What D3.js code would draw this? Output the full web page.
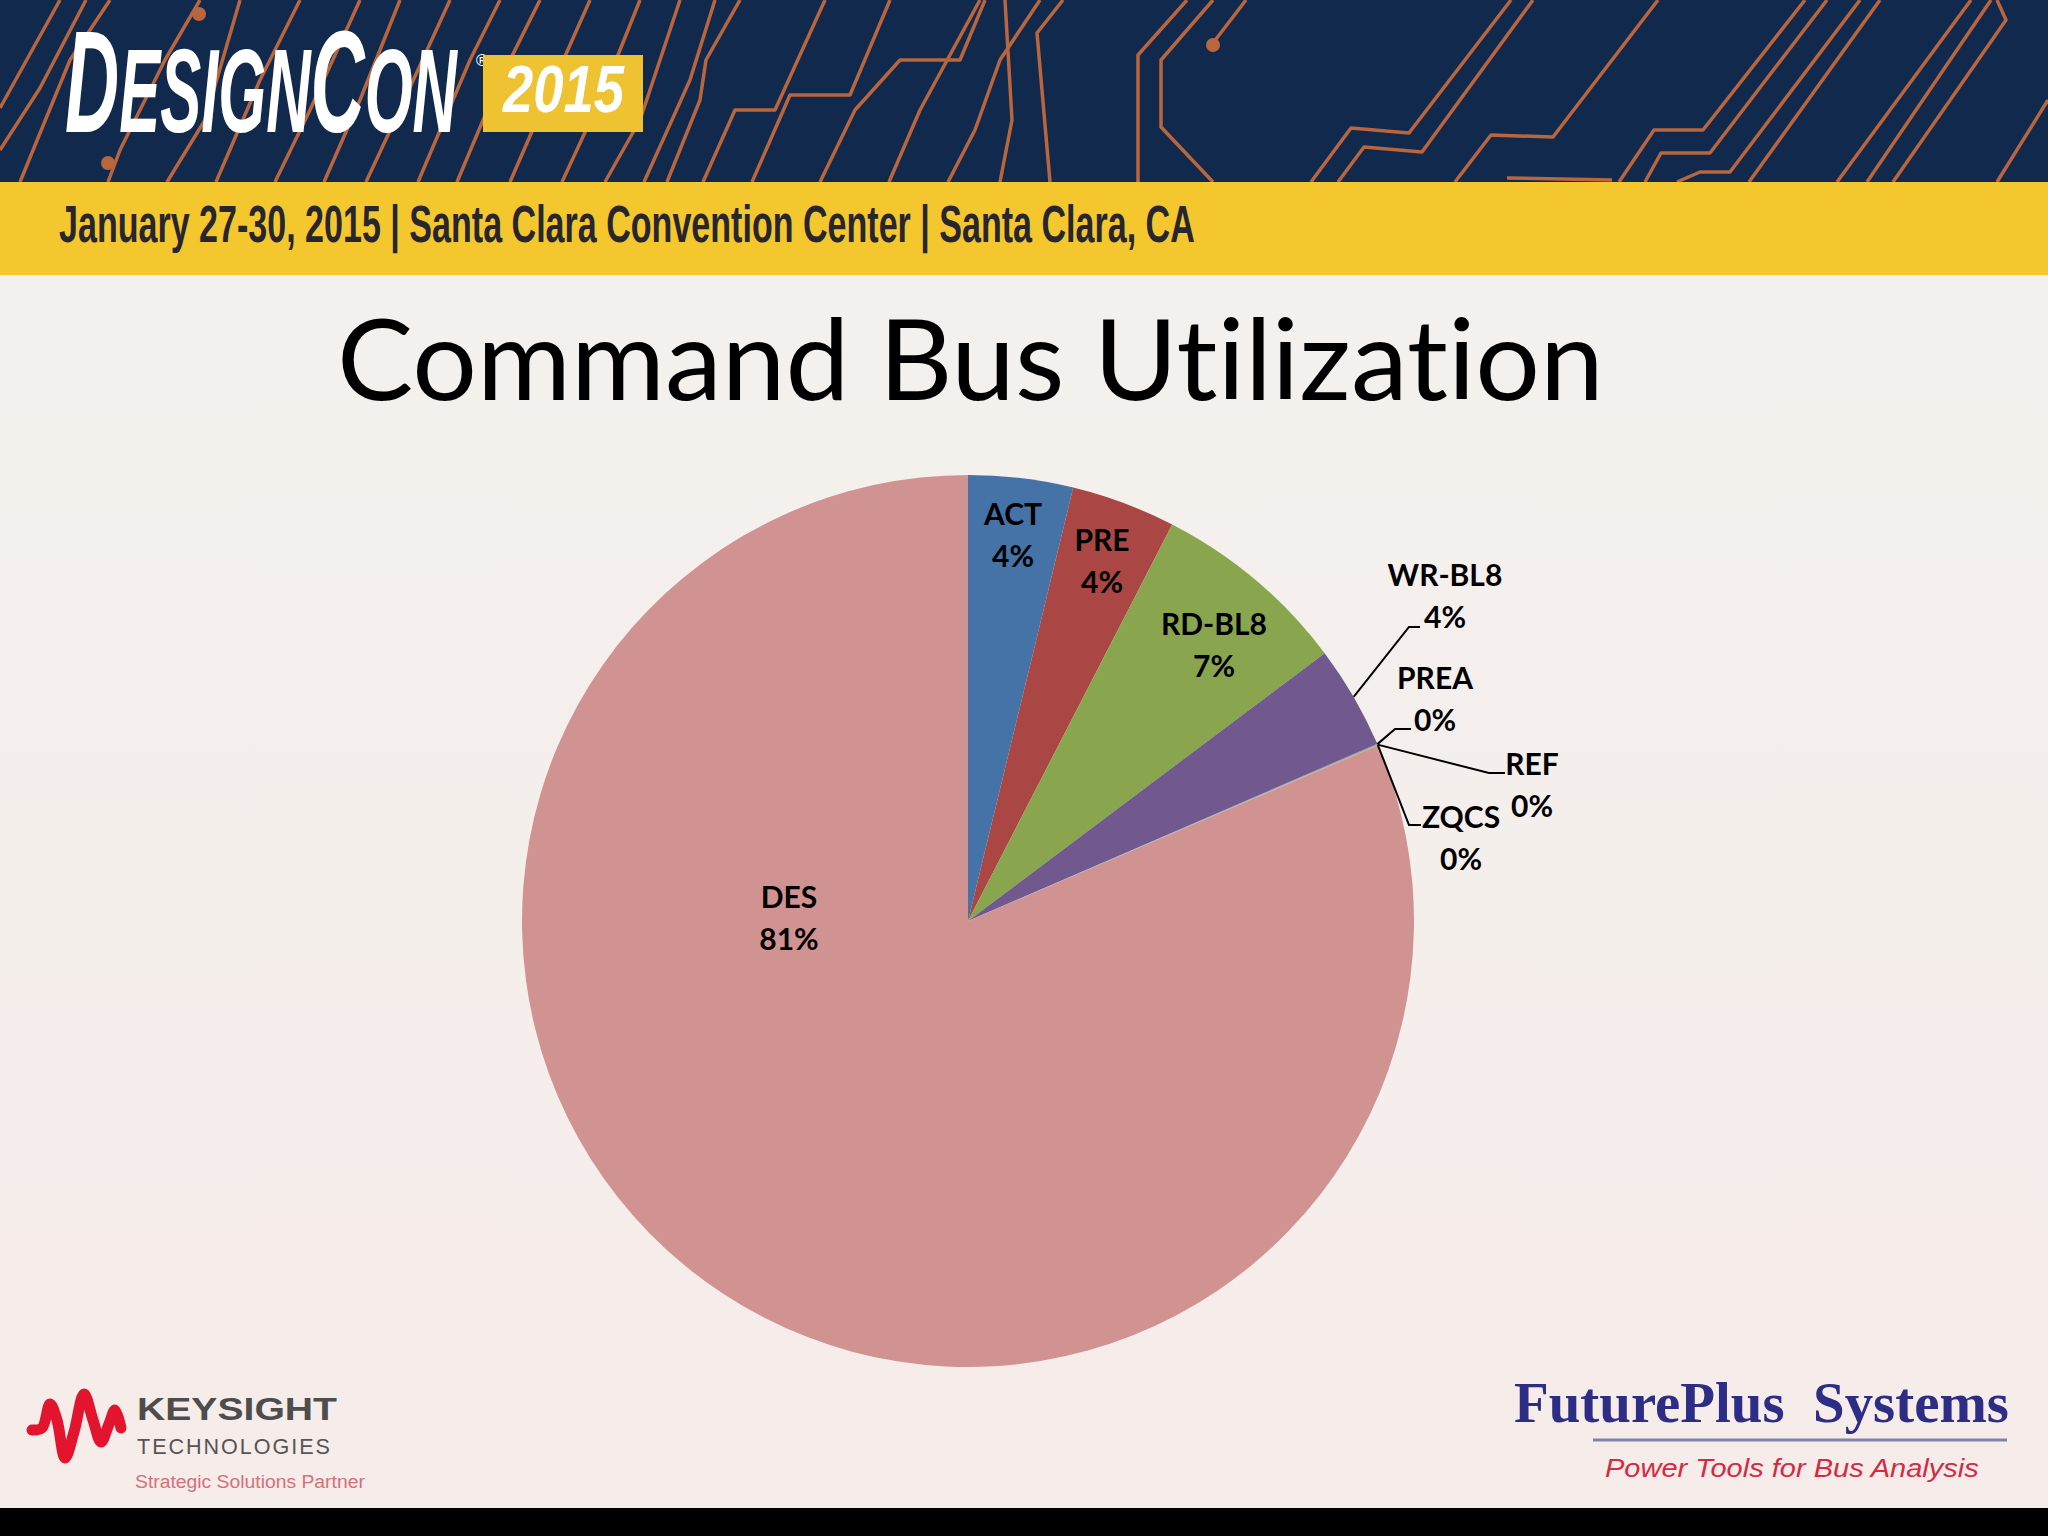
<!DOCTYPE html>
<html><head><meta charset="utf-8">
<script src="https://cdn.jsdelivr.net/npm/d3@7"></script>
<style>html,body{margin:0;padding:0;background:#000;} svg{display:block} text{font-variant-ligatures:none;font-feature-settings:"liga" 0,"clig" 0;}</style>
</head><body>
<svg id="c" width="2048" height="1536"></svg>
<script>
// ---------------- data ----------------
const categories = ["ACT", "PRE", "RD-BL8", "WR-BL8", "PREA", "REF", "ZQCS", "DES"];
const values = [3.79, 3.78, 7.18, 3.75, 0.02, 0.02, 0.02, 81.44];
const sliceColors = ["#4572a7", "#aa4643", "#89a54e", "#71588f", "#4198af", "#db843d", "#93a9cf", "#d19392"];
const titleText = "Command Bus Utilization";
const eventLine = "January 27-30, 2015 | Santa Clara Convention Center | Santa Clara, CA";

// ---------------- layout ----------------
const W = 2048, H = 1536;
const cx = 968, cy = 921, R = 446;
const lineGap = 42;
// label placement relative to the pie centre (first-line baseline), leaders for outside labels
const labelLayout = {
  "ACT":    {dx: 45,  dy: -396},
  "PRE":    {dx: 134, dy: -370},
  "RD-BL8": {dx: 246, dy: -286},
  "WR-BL8": {dx: 477, dy: -335, elbow: [441, -294], end: [452, -294]},
  "PREA":   {dx: 467, dy: -232, elbow: [427, -192], end: [443, -192]},
  "REF":    {dx: 564, dy: -146, elbow: [521, -148], end: [537, -148]},
  "ZQCS":   {dx: 493, dy: -93,  elbow: [441, -96],  end: [453, -96]},
  "DES":    {dx: -179, dy: -13}
};

const svg = d3.select("#c");
const defs = svg.append("defs");
const bg = defs.append("linearGradient").attr("id", "bg").attr("x1", 0).attr("y1", 0).attr("x2", 0).attr("y2", 1);
bg.append("stop").attr("offset", "0%").attr("stop-color", "#f3f2ee");
bg.append("stop").attr("offset", "100%").attr("stop-color", "#f6ecea");

svg.append("rect").attr("width", W).attr("height", H).attr("fill", "url(#bg)");

// ---------------- header ----------------
svg.append("rect").attr("x", 0).attr("y", 0).attr("width", W).attr("height", 182).attr("fill", "#11294c");
const circuitLines = [
  [[0,150],[40,88],[86,0]], [[0,108],[60,0]], [[20,182],[70,60],[110,0]],
  [[108,182],[120,150],[165,60],[200,0]], [[167,182],[205,120],[240,0]],
  [[216,182],[260,80],[300,0]], [[275,182],[310,110],[360,0]],
  [[324,182],[360,100],[400,0]], [[366,182],[395,120],[450,0]],
  [[418,182],[470,60],[500,0]], [[457,182],[500,80],[540,0]],
  [[510,182],[550,90],[590,0]], [[562,182],[600,100],[640,0]],
  [[605,182],[640,120],[680,0]], [[644,182],[690,80],[715,0]],
  [[667,182],[700,100],[706,60],[740,0]], [[703,182],[735,110],[775,110],[825,0]],
  [[752,182],[790,95],[850,95],[890,0]], [[820,182],[855,110],[900,60],[960,60],[985,0]],
  [[889,182],[920,110],[980,0]], [[948,182],[975,130],[1000,60],[1040,0]],
  [[1000,182],[1012,120],[1005,0]],
  [[1050,182],[1037,33],[1063,0]], [[1138,182],[1138,55],[1187,0]],
  [[1213,182],[1161,127],[1161,60],[1213,0]], [[1213,43],[1246,0]],
  [[1311,182],[1351,128],[1409,133],[1511,0]], [[1338,182],[1364,147],[1422,152],[1533,0]],
  [[1455,182],[1491,135],[1553,137],[1658,0]], [[1507,178],[1612,180]],
  [[1619,182],[1654,130],[1703,130],[1805,0]], [[1645,182],[1661,153],[1710,153],[1827,0]],
  [[1677,182],[1700,172],[1730,172],[1860,0]], [[1749,182],[1880,0]],
  [[1837,182],[1971,0]], [[1867,182],[1991,0]], [[1893,182],[2006,20],[1997,0]],
  [[1997,182],[2048,100]]
];
svg.append("g").selectAll("path").data(circuitLines).join("path")
  .attr("d", d3.line()).attr("fill", "none").attr("stroke", "#b9653d")
  .attr("stroke-width", 3.5).attr("stroke-linejoin", "round");
svg.append("g").selectAll("circle").data([[199,14],[1213,45],[108,163]]).join("circle")
  .attr("cx", d => d[0]).attr("cy", d => d[1]).attr("r", 7).attr("fill", "#b9653d");

// logo
function fitText(sel, x, y, width) {
  const w = sel.node().getComputedTextLength();
  sel.attr("transform", `translate(${x},${y}) scale(${width / w},1)`);
}
const logo = svg.append("text").attr("fill", "#fff").attr("font-family", "Liberation Sans, Arial, sans-serif")
  .attr("font-weight", "bold").attr("font-style", "italic");
[["D",145],["ESIGN",119],["C",145],["ON",119]].forEach(p => logo.append("tspan").attr("font-size", p[1]).text(p[0]));
fitText(logo, 65, 132, 392);
svg.append("text").attr("x", 474).attr("y", 66).attr("fill", "#fff").attr("font-size", 16)
  .attr("font-family", "DejaVu Sans").text("\u00ae");
svg.append("rect").attr("x", 483).attr("y", 55).attr("width", 160).attr("height", 77).attr("fill", "#efc232");
const yr = svg.append("text").attr("fill", "#fff").attr("font-family", "Liberation Sans, Arial, sans-serif")
  .attr("font-weight", "bold").attr("font-style", "italic").attr("font-size", 66).text("2015");
fitText(yr, 503, 112, 121);

svg.append("rect").attr("x", 0).attr("y", 182).attr("width", W).attr("height", 93).attr("fill", "#f5c72e");
const ev = svg.append("text").attr("fill", "#27262f").attr("font-family", "Liberation Sans, Arial, sans-serif")
  .attr("font-weight", "bold").attr("font-size", 51).text(eventLine);
fitText(ev, 59, 242, 1136);

// ---------------- title ----------------
const ttl = svg.append("text").attr("fill", "#000").attr("font-family", "Lato, 'Open Sans', sans-serif")
  .attr("font-size", 112).text(titleText);
fitText(ttl, 337, 400, 1267);

// ---------------- pie ----------------
const data = categories.map((c, i) => ({cat: c, value: values[i]}));
const color = d3.scaleOrdinal(categories, sliceColors);
const pie = d3.pie().sort(null).value(d => d.value);
const arc = d3.arc().innerRadius(0).outerRadius(R);
const arcs = pie(data);
const g = svg.append("g").attr("transform", `translate(${cx},${cy})`);
g.selectAll("path.slice").data(arcs).join("path").attr("class", "slice")
  .attr("d", arc).attr("fill", d => color(d.data.cat));

// leaders
const leaders = arcs.filter(a => labelLayout[a.data.cat].elbow);
g.selectAll("path.leader").data(leaders).join("path").attr("class", "leader")
  .attr("fill", "none").attr("stroke", "#000").attr("stroke-width", 2)
  .attr("d", a => {
    const m = (a.startAngle + a.endAngle) / 2;
    const L = labelLayout[a.data.cat];
    return d3.line()([[R * Math.sin(m), -R * Math.cos(m)], L.elbow, L.end]);
  });

// labels
const lab = g.selectAll("text.lab").data(arcs).join("text").attr("class", "lab")
  .attr("text-anchor", "middle").attr("font-family", "Lato, 'Open Sans', sans-serif")
  .attr("font-weight", "bold").attr("font-size", 30).attr("fill", "#000");
lab.append("tspan").attr("x", a => labelLayout[a.data.cat].dx).attr("y", a => labelLayout[a.data.cat].dy)
  .text(a => a.data.cat);
lab.append("tspan").attr("x", a => labelLayout[a.data.cat].dx).attr("y", a => labelLayout[a.data.cat].dy + lineGap)
  .text(a => Math.round(a.data.value) + "%");

// ---------------- footer logos ----------------
svg.append("path")
  .attr("d", d3.line().curve(d3.curveCatmullRom)([[32,1430],[42,1428],[50,1404],[57,1420],[65,1458],[74,1432],[84,1394],[93,1420],[101,1442],[109,1424],[115,1410],[121,1428]]))
  .attr("fill", "none").attr("stroke", "#e3142e").attr("stroke-width", 11).attr("stroke-linecap", "round");
const ks = svg.append("text").attr("fill", "#4d4d4d").attr("font-family", "Liberation Sans, Arial, sans-serif")
  .attr("font-weight", "bold").attr("font-size", 32).text("KEYSIGHT");
fitText(ks, 137, 1420, 200);
const kt = svg.append("text").attr("fill", "#555").attr("font-family", "Liberation Sans, Arial, sans-serif")
  .attr("font-size", 22).attr("letter-spacing", 2).text("TECHNOLOGIES");
fitText(kt, 137, 1454, 195);
const kp = svg.append("text").attr("fill", "#d4707c").attr("font-family", "Liberation Sans, Arial, sans-serif")
  .attr("font-size", 19).text("Strategic Solutions Partner");
fitText(kp, 135, 1488, 230);

const fp = svg.append("text").attr("fill", "#2d2d86").attr("font-family", "Liberation Serif, 'Times New Roman', serif")
  .attr("font-weight", "bold").attr("font-size", 58).text("FuturePlus\u00a0\u00a0Systems");
fitText(fp, 1514, 1422, 495);
svg.append("line").attr("x1", 1593).attr("x2", 2007).attr("y1", 1440).attr("y2", 1440)
  .attr("stroke", "#8383a8").attr("stroke-width", 3);
const pt = svg.append("text").attr("fill", "#d42a44").attr("font-family", "Liberation Sans, Arial, sans-serif")
  .attr("font-style", "italic").attr("font-size", 26).text("Power Tools for Bus Analysis");
fitText(pt, 1605, 1477, 374);

svg.append("rect").attr("x", 0).attr("y", 1508).attr("width", W).attr("height", 28).attr("fill", "#000");
</script>
</body></html>
